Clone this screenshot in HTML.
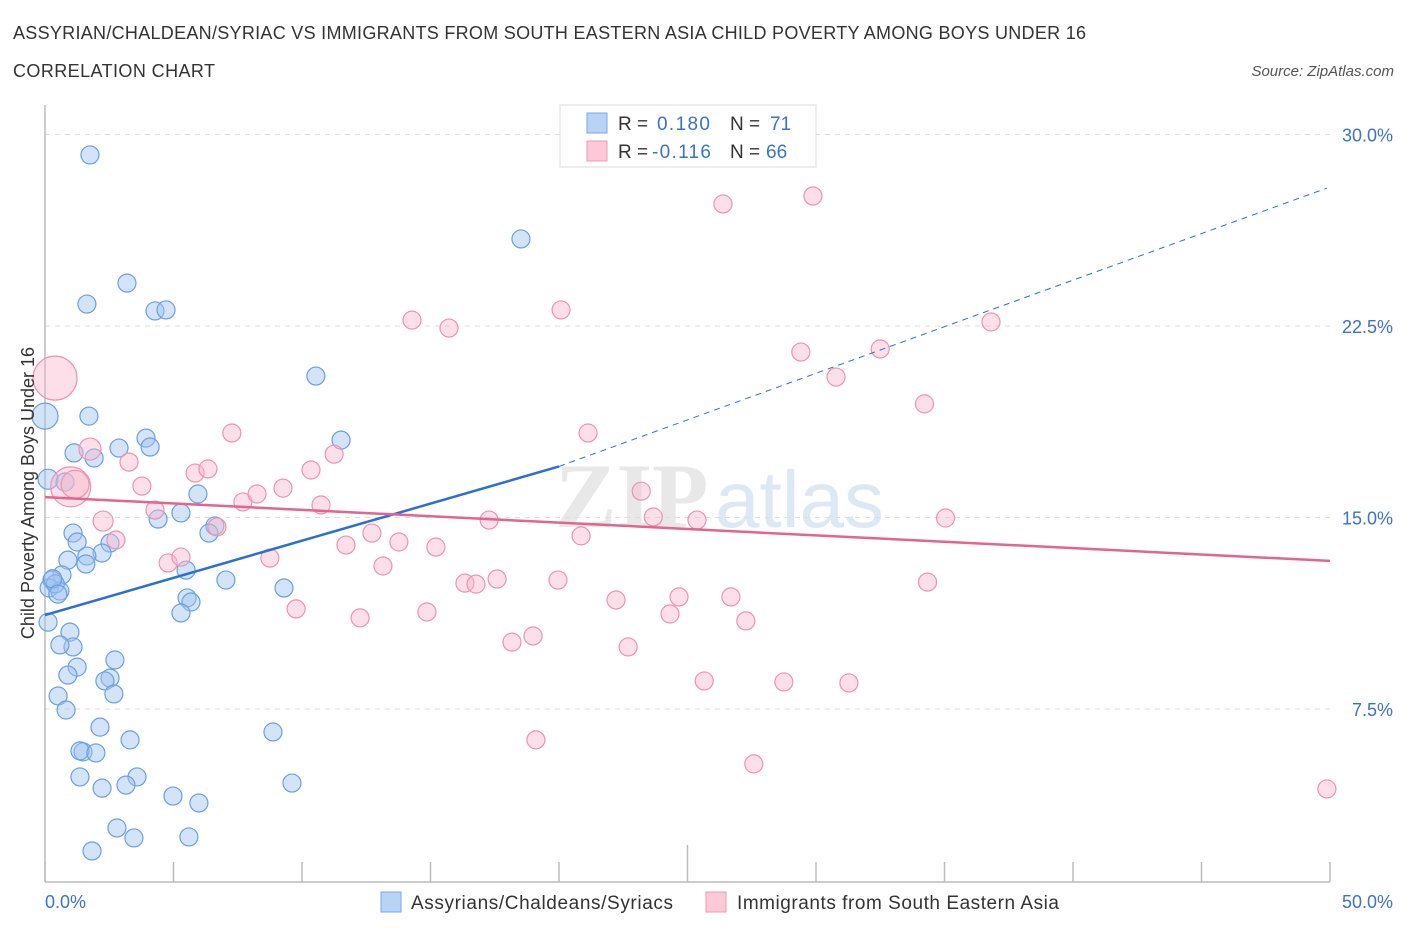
<!DOCTYPE html>
<html><head><meta charset="utf-8"><style>
body{margin:0;background:#fff;font-family:"Liberation Sans",sans-serif;}
svg{display:block}
</style></head><body>
<svg id="chart" width="1406" height="930" viewBox="0 0 1406 930" xmlns="http://www.w3.org/2000/svg">
<text x="13" y="39" font-size="18" fill="#333" textLength="1073">ASSYRIAN/CHALDEAN/SYRIAC VS IMMIGRANTS FROM SOUTH EASTERN ASIA CHILD POVERTY AMONG BOYS UNDER 16</text>
<text x="13" y="77" font-size="18" fill="#333" textLength="202">CORRELATION CHART</text>
<text x="1394" y="76" font-size="15" fill="#555" font-style="italic" text-anchor="end">Source: ZipAtlas.com</text>
<text x="555" y="527" font-size="92" fill="#e8e8e8" font-family="Liberation Serif, serif" font-weight="bold">ZIP</text>
<text x="715" y="527" font-size="80" fill="#dde8f5">atlas</text>
<g id="grid"></g>
<g id="axes"></g>
<g id="pts"></g>
<g id="trends"></g>
<text transform="translate(34,493) rotate(-90)" font-size="18" fill="#333" text-anchor="middle">Child Poverty Among Boys Under 16</text>
<g>
<rect x="560" y="105" width="256" height="62" fill="#fff" stroke="#ddd"/>
<rect x="587" y="113" width="20" height="20" fill="#b8d3f5" stroke="#7aa8e6"/>
<rect x="587" y="141" width="20" height="20" fill="#fbc9d8" stroke="#ee9ab5"/>
<text x="618" y="130" font-size="19" fill="#333">R =</text>
<text x="657" y="130" font-size="19" fill="#3a73c9" textLength="53">0.180</text>
<text x="730" y="130" font-size="19" fill="#333">N =</text>
<text x="770" y="130" font-size="19" fill="#3a73c9">71</text>
<text x="618" y="158" font-size="19" fill="#333">R =</text>
<text x="652" y="158" font-size="19" fill="#3a73c9" textLength="59">-0.116</text>
<text x="730" y="158" font-size="19" fill="#333">N =</text>
<text x="766" y="158" font-size="19" fill="#3a73c9">66</text>
</g>
<g>
<rect x="381" y="892" width="20" height="20" fill="#b8d3f5" stroke="#7aa8e6"/>
<text x="411" y="909" font-size="19" fill="#333" textLength="262">Assyrians/Chaldeans/Syriacs</text>
<rect x="706" y="892" width="20" height="20" fill="#fbc9d8" stroke="#ee9ab5"/>
<text x="737" y="909" font-size="19" fill="#333" textLength="322">Immigrants from South Eastern Asia</text>
</g>
</svg>
<script>
const yTicks=[7.5,15,22.5,30];
const yTickLabels=["7.5%","15.0%","22.5%","30.0%"];
const xTickLabels=["0.0%","50.0%"];
const blueX=[1.75,3.19,1.63,4.28,4.71,18.52,10.54,0,1.71,3.93,4.09,2.88,11.52,1.13,1.91,0.12,0.78,5.95,5.29,4.40,6.61,6.38,1.09,1.25,2.53,2.22,0.89,1.63,1.59,5.49,0.66,0.27,0.16,0.58,7.04,5.53,5.68,5.29,9.30,0.12,0.97,1.09,0.58,2.72,1.25,0.89,2.53,2.33,2.68,0.51,0.82,2.14,3.31,8.87,1.48,1.36,1.98,1.36,3.58,3.15,2.22,4.98,5.99,9.61,2.80,3.46,5.60,1.83,0.4,0.3,0.5];
const blueY=[29.2,24.18,23.36,23.09,23.13,25.91,20.54,18.97,18.97,18.11,17.76,17.72,18.03,17.53,17.33,16.5,16.39,15.92,15.18,14.94,14.67,14.39,14.39,14.04,14.0,13.61,13.33,13.49,13.18,12.94,12.75,12.55,12.24,12.12,12.55,11.85,11.69,11.26,12.24,10.9,10.51,9.93,10.01,9.42,9.14,8.83,8.71,8.60,8.09,8.01,7.46,6.79,6.29,6.60,5.82,5.86,5.78,4.84,4.84,4.52,4.40,4.09,3.82,4.60,2.84,2.45,2.49,1.94,12.4,12.6,12.0];
const blueR=[9,9,9,9,9,9,9,13,9,9,9,9,9,9,9,10,9,9,9,9,9,9,9,9,9,9,9,9,9,9,9,9,9,9,9,9,9,9,9,9,9,9,9,9,9,9,9,9,9,9,9,9,9,9,9,9,9,9,9,9,9,9,9,9,9,9,9,9,9,9,9];
const pinkX=[0.39,1.0,1.17,1.75,3.27,2.26,2.76,3.77,4.28,4.79,5.29,5.84,6.34,6.69,7.27,7.70,8.25,8.75,9.26,9.77,10.35,10.74,11.25,11.71,12.26,12.72,13.15,13.77,14.28,14.86,15.21,15.72,16.34,16.77,17.28,17.59,18.17,18.99,19.10,19.96,20.08,20.86,21.13,22.22,22.69,23.20,23.67,24.32,24.67,25.37,25.65,26.38,26.69,27.27,27.58,28.75,29.41,29.88,30.78,31.28,32.50,34.22,34.34,35.04,36.81,49.88];
const pinkY=[20.46,16.2,16.3,17.68,17.17,14.86,14.12,16.23,15.29,13.22,13.45,16.74,16.9,14.63,18.31,15.61,15.92,13.41,16.15,11.42,16.86,15.49,17.48,13.92,11.07,14.39,13.1,14.04,22.73,11.3,13.84,22.42,12.43,12.39,14.9,12.59,10.12,10.36,6.29,12.55,23.13,14.28,18.31,11.77,9.93,16.03,15.02,11.22,11.89,14.9,8.6,27.28,11.89,10.95,5.35,8.56,21.48,27.59,20.5,8.52,21.6,19.45,12.47,14.98,22.66,4.37];
const pinkR=[22,20,14,11,9,10,9,9,9,9,9,9,9,9,9,9,9,9,9,9,9,9,9,9,9,9,9,9,9,9,9,9,9,9,9,9,9,9,9,9,9,9,9,9,9,9,9,9,9,9,9,9,9,9,9,9,9,9,9,9,9,9,9,9,9,9];
const blueTrend=[[0,11.18],[20,17.0],[49.88,27.9]];
const pinkTrend=[[0,15.8],[50,13.3]];
const NS="http://www.w3.org/2000/svg";
const X=v=>45+v/50*1285, Y=v=>900.5-v/7.5*191.5;
function mk(t,a,p){const e=document.createElementNS(NS,t);for(const k in a)e.setAttribute(k,a[k]);p.appendChild(e);return e;}
const grid=document.getElementById('grid'),axes=document.getElementById('axes'),pts=document.getElementById('pts'),tr=document.getElementById('trends');
yTicks.forEach((t,i)=>{
 const l=mk('line',{x1:45,x2:1330,y1:Y(t),y2:Y(t),stroke:'#ddd','stroke-dasharray':'5,5'},grid);
 
 
 const tx=mk('text',{x:1393,y:Y(t)+7,'font-size':18,fill:'#3a73c9','text-anchor':'end'},grid);
 tx.textContent=yTickLabels[i];
 
 
});
const ax=mk('line',{x1:45,x2:45,y1:105,y2:882,stroke:'#bbb','stroke-width':1.5},axes);


const bx=mk('line',{x1:45,x2:1330,y1:882,y2:882,stroke:'#bbb','stroke-width':1.5},axes);


for(let i=0;i<=10;i++){
 const t=mk('line',{x1:X(i*5),x2:X(i*5),y1:i==5?845:862,y2:882,stroke:'#bbb','stroke-width':1.5},axes);
 
 
}
[[0,'start',45],[1,'end',1393]].forEach(([i,a,x])=>{
 const t=mk('text',{x:x,y:908,'font-size':18,fill:'#3a73c9','text-anchor':a},axes);
 t.textContent=xTickLabels[i];
 
 
});
blueX.forEach((v,i)=>{
 const c=mk('circle',{cx:X(v),cy:Y(blueY[i]),r:blueR[i]||9,fill:'rgba(160,196,240,0.45)',stroke:'#6a9fe0','stroke-width':1.2},pts);
 
 
});
pinkX.forEach((v,i)=>{
 const c=mk('circle',{cx:X(v),cy:Y(pinkY[i]),r:pinkR[i]||9,fill:'rgba(248,184,204,0.45)',stroke:'#ec93b0','stroke-width':1.2},pts);
 
 
});
const b1=mk('line',{x1:X(blueTrend[0][0]),y1:Y(blueTrend[0][1]),x2:X(blueTrend[1][0]),y2:Y(blueTrend[1][1]),stroke:'#2a6fd6','stroke-width':2.5},tr);


const b2=mk('line',{x1:X(blueTrend[1][0]),y1:Y(blueTrend[1][1]),x2:X(blueTrend[2][0]),y2:Y(blueTrend[2][1]),stroke:'#2a6fd6','stroke-width':1,'stroke-dasharray':'6,5'},tr);


const p1=mk('line',{x1:X(pinkTrend[0][0]),y1:Y(pinkTrend[0][1]),x2:X(pinkTrend[1][0]),y2:Y(pinkTrend[1][1]),stroke:'#e5638f','stroke-width':2.5},tr);


</script>
</body></html>
